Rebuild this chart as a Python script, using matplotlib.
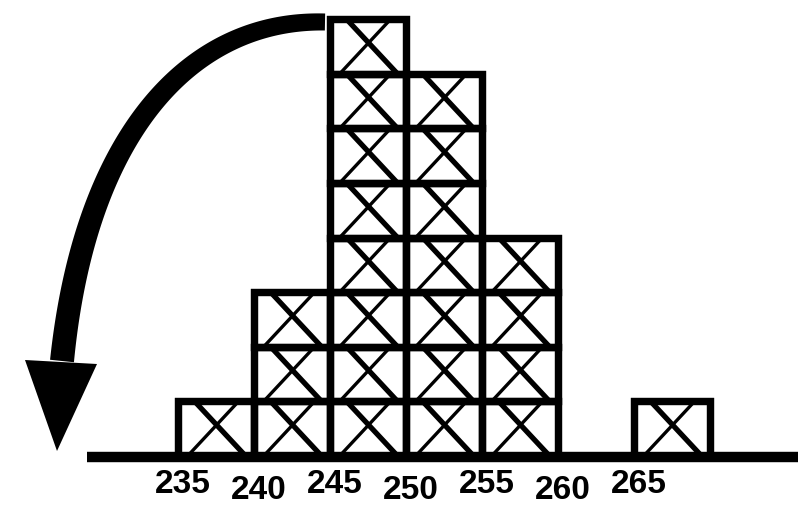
import numpy as np
from matplotlib import pyplot as plt
from matplotlib.patches import Polygon

# data: bin start values and number of boxes in each bin
bins = [235, 240, 245, 250, 255, 260, 265]
counts = [1, 3, 8, 7, 4, 0, 1]
tick_labels = ['235', '240', '245', '250', '255', '260', '265']
bin_width = 5

fig = plt.figure(figsize=(7.98, 5.06), dpi=100)
ax = fig.add_axes([0, 0, 1, 1])
ax.set_xlim(223.3, 275.8)
ax.set_ylim(-0.9, 8.37)
ax.axis('off')

# stacked boxes with an X in each
for b, c in zip(bins, counts):
    for k in range(c):
        ax.bar(b, 1, width=bin_width, bottom=k, align='edge',
               color='white', edgecolor='black', linewidth=5.2, zorder=2)
        # thick diagonal: top-left to bottom-right
        ax.plot([b + 0.22 * bin_width, b + 0.89 * bin_width], [k + 1, k],
                color='black', linewidth=3.8, zorder=3, solid_capstyle='butt')
        # thin diagonal: top-right to bottom-left
        ax.plot([b + 0.80 * bin_width, b + 0.13 * bin_width], [k + 1, k],
                color='black', linewidth=2.4, zorder=3, solid_capstyle='butt')
        ax.bar(b, 1, width=bin_width, bottom=k, align='edge',
               color='none', edgecolor='black', linewidth=5.2, zorder=3.5)

# base line
ax.plot([229, 276], [-0.02, -0.02], color='black', linewidth=7.5, zorder=4,
        solid_capstyle='butt')

# staggered tick labels
for i, (b, lab) in enumerate(zip(bins, tick_labels)):
    y = -0.50 if i % 2 == 0 else -0.62
    ax.text(b + 0.32, y, lab, ha='center', va='center', fontsize=24,
            fontweight='bold', family='Liberation Sans')

# curved arrow (pixel coordinates overlay)
ov = fig.add_axes([0, 0, 1, 1])
ov.set_xlim(0, 798)
ov.set_ylim(506, 0)
ov.axis('off')
ov.patch.set_alpha(0)

P = np.array([[325, 23], [190, 20], [85, 135], [62, 362]], dtype=float)
t = np.linspace(0, 1, 200)[:, None]
pts = ((1 - t) ** 3 * P[0] + 3 * (1 - t) ** 2 * t * P[1]
       + 3 * (1 - t) * t ** 2 * P[2] + t ** 3 * P[3])
d = np.gradient(pts, axis=0)
d /= np.linalg.norm(d, axis=1)[:, None]
nrm = np.column_stack([-d[:, 1], d[:, 0]])
w = (17 + 7 * t[:, 0]) / 2
left = pts + nrm * w[:, None]
right = pts - nrm * w[:, None]
ov.add_patch(Polygon(np.vstack([left, right[::-1]]), closed=True,
                     color='black', lw=0))
ov.add_patch(Polygon([[25, 361], [97, 365], [57, 452]], closed=True,
                     color='black', lw=0))

plt.savefig('out.png', dpi=100)
